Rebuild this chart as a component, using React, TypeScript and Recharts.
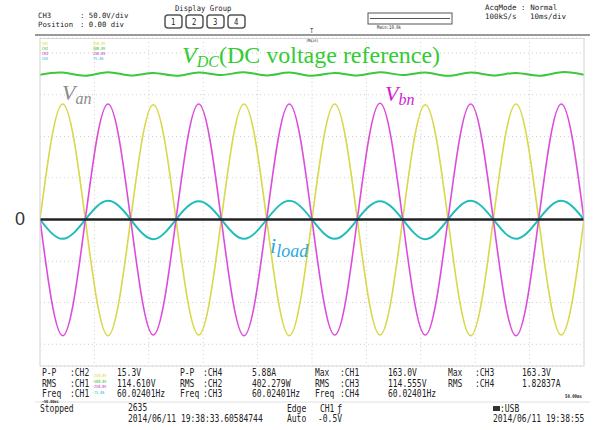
import React from 'react';
import { LineChart, Line, XAxis, YAxis, CartesianGrid, ReferenceLine } from 'recharts';

// time axis, ms (10 ms/div, 100 ms screen)
const timeMs = [0, 4.17, 8.33, 12.5, 16.67, 20.83, 25, 29.17, 33.33, 37.5, 41.67, 45.83, 50, 54.17, 58.33, 62.5, 66.67, 70.83, 75, 79.17, 83.33, 87.5, 91.67, 95.83, 100];
// phase voltage Van (V)
const vanVolts = [0, 163, 0, -164, 0, 162, 0, -163, 0, 163, 0, -164, 0, 163, 0, -163, 0, 162, 0, -164, 0, 163, 0, -163, 0];
// phase voltage Vbn (V)
const vbnVolts = [0, -164, 0, 163, 0, -163, 0, 163, 0, -164, 0, 163, 0, -163, 0, 164, 0, -163, 0, 163, 0, -164, 0, 163, 0];
// load current (A)
const iLoadAmps = [0, -2.65, 0, 2.55, 0, -2.7, 0, 2.5, 0, -2.65, 0, 2.55, 0, -2.65, 0, 2.5, 0, -2.7, 0, 2.55, 0, -2.65, 0, 2.55, 0];
// DC link voltage (V)
const vdcVolts = [406, 412, 403, 413, 404, 411, 403, 412, 405, 413, 404, 412, 403, 411, 404, 413, 405, 412, 403, 412, 404, 411, 403, 413, 406];

const timeTicks = [0, 10, 20, 30, 40, 50, 60, 70, 80, 90, 100];
const voltTicks = [-176, -117, -59, 0, 59, 117, 176, 235];

const vanData = timeMs.map((t, i) => ({ t, v: vanVolts[i] }));
const vbnData = timeMs.map((t, i) => ({ t, v: vbnVolts[i] }));
const iData = timeMs.map((t, i) => ({ t, i: iLoadAmps[i] }));
const dcData = timeMs.map((t, i) => ({ t, dc: vdcVolts[i] }));

const MONO = "'DejaVu Sans Mono', 'Liberation Mono', monospace";
const SERIF = "'Liberation Serif', 'DejaVu Serif', serif";

const T = ({ x, y, children, size = 10, fill = '#222', sx = 0.8, weight = 'normal' }: any) => (
  <text transform={`translate(${x},${y}) scale(${sx},1)`} fontFamily={MONO} fontSize={size} fill={fill} fontWeight={weight}>
    {children}
  </text>
);

export default function App() {
  return (
    <div style={{ position: 'absolute', left: 0, top: 0, width: 595, height: 430, background: '#fff', overflow: 'hidden' }}>
      <div style={{ position: 'absolute', left: 0, top: 0 }}>
        <LineChart width={595} height={430} margin={{ top: 38, left: 40, right: 11, bottom: 64 }}>
          <CartesianGrid stroke="#cfcfcf" strokeDasharray="1 3" yAxisId="v" />
          <XAxis type="number" dataKey="t" domain={[0, 100]} ticks={timeTicks} hide allowDataOverflow />
          <YAxis yAxisId="v" type="number" domain={[-206.7, 256.1]} ticks={voltTicks} hide allowDataOverflow />
          <YAxis yAxisId="i" type="number" domain={[-20.05, 24.84]} hide allowDataOverflow />
          <YAxis yAxisId="dc" type="number" domain={[-410.8, 508.9]} hide allowDataOverflow />
          <Line data={dcData} dataKey="dc" yAxisId="dc" type="natural" stroke="#3cc83c" strokeWidth={2} dot={false} isAnimationActive={false} />
          <Line data={vanData} dataKey="v" yAxisId="v" type="natural" stroke="#d8d848" strokeWidth={1.6} dot={false} isAnimationActive={false} />
          <Line data={vbnData} dataKey="v" yAxisId="v" type="natural" stroke="#dc4cdc" strokeWidth={1.6} dot={false} isAnimationActive={false} />
          <Line data={iData} dataKey="i" yAxisId="i" type="natural" stroke="#20bcbc" strokeWidth={2} dot={false} isAnimationActive={false} />
          <ReferenceLine y={0} yAxisId="v" stroke="#222" strokeWidth={2.5} />
        </LineChart>
      </div>
      <svg width={595} height={430} style={{ position: 'absolute', left: 0, top: 0, pointerEvents: 'none' }}>
        {/* plot frame */}
        <line x1={35} y1={35} x2={590} y2={35} stroke="#9a9a9a" strokeWidth={2} />
        <rect x={40} y={38.5} width={544} height={327.5} fill="none" stroke="#d8d8d8" strokeWidth={1} />
        <line x1={35} y1={402} x2={590} y2={402} stroke="#e0e0e0" strokeWidth={1} />

        {/* header */}
        <T x={38} y={18} size={7.3} sx={1.0}>CH3</T>
        <T x={80} y={18} size={7.3} sx={1.0}>: 50.0V/div</T>
        <T x={38} y={26.5} size={7.3} sx={1.0}>Position</T>
        <T x={80} y={26.5} size={7.3} sx={1.0}>: 0.00 div</T>
        <T x={175} y={11} size={8} sx={0.9}>Display Group</T>
        {[1, 2, 3, 4].map((n, k) => (
          <g key={n}>
            <rect x={165 + k * 21} y={15} width={17} height={13} rx={3} fill="#fff" stroke="#555" strokeWidth={1.5} />
            <T x={171 + k * 21} y={25} size={9}>{String(n)}</T>
          </g>
        ))}
        <rect x={368} y={13} width={84} height={11} fill="#fff" stroke="#555" strokeWidth={1} />
        <line x1={370} y1={18.5} x2={450} y2={18.5} stroke="#555" strokeWidth={1} />
        <T x={377} y={29} size={5}>Main:10.0k</T>
        <T x={485} y={10} size={7.5} sx={1.0}>AcqMode : Normal</T>
        <T x={485} y={18.5} size={7.5} sx={1.0}>100kS/s</T>
        <T x={530} y={18.5} size={7.5} sx={1.0}>10ms/div</T>
        <T x={310} y={33} size={7}>T</T>
        <T x={306} y={41.5} size={4.3}>(Main)</T>

        {/* channel legend */}
        <T x={42} y={44.5} size={4.3} fill="#d8d800">CH1</T>
        <T x={93} y={44.5} size={4.3} fill="#d8d800">250.0V</T>
        <T x={42} y={49.5} size={4.3} fill="#22c022">CH2</T>
        <T x={93} y={49.5} size={4.3} fill="#22c022">500.0V</T>
        <T x={42} y={54.5} size={4.3} fill="#c020c0">CH3</T>
        <T x={93} y={54.5} size={4.3} fill="#c020c0">250.0V</T>
        <T x={42} y={59.5} size={4.3} fill="#20b8c8">CH4</T>
        <T x={93} y={59.5} size={4.3} fill="#20b8c8">75.0A</T>

        {/* annotations */}
        <text x={182} y={63} fontFamily={SERIF} fontSize={24} fill="#33cc33">
          <tspan fontStyle="italic">V</tspan>
          <tspan fontStyle="italic" fontSize={16} dy={4}>DC</tspan>
          <tspan dy={-4}>(DC voltage reference)</tspan>
        </text>
        <text x={62} y={100} fontFamily={SERIF} fontSize={22} fill="#8a8a8a" fontStyle="italic">
          V<tspan fontSize={16} dy={4}>an</tspan>
        </text>
        <text x={385} y={101} fontFamily={SERIF} fontSize={22} fill="#d020d0" fontStyle="italic">
          V<tspan fontSize={16} dy={4}>bn</tspan>
        </text>
        <text x={270} y={253} fontFamily={SERIF} fontSize={22} fill="#29a9e1" fontStyle="italic">
          i<tspan fontSize={18} dy={4}>load</tspan>
        </text>
        <text x={15} y={225} fontFamily="'Liberation Sans', Arial, sans-serif" fontSize={18} fill="#333">0</text>

        {/* measurements */}
        <T x={42} y={376}>P-P</T><T x={70} y={376}>:CH2</T><T x={117} y={376}>15.3V</T>
        <T x={180} y={376}>P-P</T><T x={203} y={376}>:CH4</T><T x={252} y={376}>5.88A</T>
        <T x={315} y={376}>Max</T><T x={340} y={376}>:CH1</T><T x={388} y={376}>163.0V</T>
        <T x={448} y={376}>Max</T><T x={475} y={376}>:CH3</T><T x={522} y={376}>163.3V</T>

        <T x={42} y={386.5}>RMS</T><T x={70} y={386.5}>:CH1</T><T x={117} y={386.5}>114.610V</T>
        <T x={180} y={386.5}>RMS</T><T x={203} y={386.5}>:CH2</T><T x={252} y={386.5}>402.279W</T>
        <T x={315} y={386.5}>RMS</T><T x={340} y={386.5}>:CH3</T><T x={388} y={386.5}>114.555V</T>
        <T x={448} y={386.5}>RMS</T><T x={475} y={386.5}>:CH4</T><T x={522} y={386.5}>1.82837A</T>

        <T x={42} y={397}>Freq</T><T x={70} y={397}>:CH1</T><T x={117} y={397}>60.02401Hz</T>
        <T x={180} y={397}>Freq</T><T x={203} y={397}>:CH3</T><T x={252} y={397}>60.02401Hz</T>
        <T x={315} y={397}>Freq</T><T x={340} y={397}>:CH4</T><T x={388} y={397}>60.02401Hz</T>
        <T x={565} y={398} size={5} weight="bold">50.00ms</T>
        <T x={42} y={403} size={4.3} weight="bold">-50.00ms</T>

        <T x={92} y={377} size={4.3} fill="#d8d800">-250.0V</T>
        <T x={92} y={382.5} size={4.3} fill="#22c022">-500.0V</T>
        <T x={92} y={388} size={4.3} fill="#c020c0">-250.0V</T>
        <T x={92} y={393.5} size={4.3} fill="#20b8c8">-75.0A</T>

        {/* status */}
        <T x={40} y={412}>Stopped</T>
        <T x={128} y={411}>2635</T>
        <T x={128} y={422}>2014/06/11 19:38:33.60584744</T>
        <T x={287} y={412}>Edge</T>
        <T x={287} y={422}>Auto</T>
        <T x={320} y={412}>CH1</T>
        <T x={337} y={412} size={11}>ƒ</T>
        <T x={318} y={422}>-0.5V</T>
        <rect x={493} y={406} width={7} height={5} fill="#333" />
        <T x={500} y={412}>:USB</T>
        <T x={493} y={422}>2014/06/11 19:38:55</T>
      </svg>
    </div>
  );
}
